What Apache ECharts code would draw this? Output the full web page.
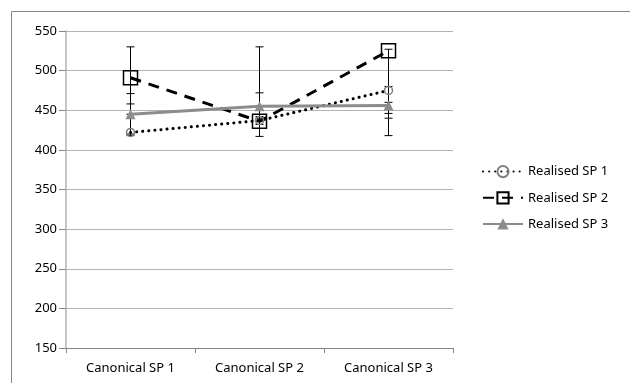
<!DOCTYPE html>
<html><head><meta charset="utf-8">
<script src="https://cdn.jsdelivr.net/npm/echarts@6/dist/echarts.min.js"></script>
<style>html,body{margin:0;padding:0;background:#fff}#c{width:630px;height:383px}</style>
</head><body><div id="c"></div>
<script>
const categories = ['Canonical SP 1', 'Canonical SP 2', 'Canonical SP 3'];
const seriesNames = ['Realised SP 1', 'Realised SP 2', 'Realised SP 3'];
const sp1 = [422, 437, 475];
const sp2 = [491, 436, 525];
const sp3 = [445, 455, 456];
const sp1Low = [418, 432, 440];
const sp1High = [458, 442, 480];
const sp2Low = [445, 417, 418];
const sp2High = [530, 530, 527];
const sp3Low = [420, 440, 446];
const sp3High = [471, 472, 460];
const yTicks = [150, 550, 50];

const FONT = 'Noto Sans';
function errData(lo, hi) { return categories.map((c, i) => [i, lo[i], hi[i]]); }
function errSeries(lo, hi) {
  return {
    type: 'custom', silent: true, z: 1, legendHoverLink: false,
    data: errData(lo, hi),
    renderItem: function (params, api) {
      const a = api.coord([api.value(0), api.value(1)]);
      const b = api.coord([api.value(0), api.value(2)]);
      const w = 4;
      const st = { stroke: '#000', lineWidth: 1 };
      return { type: 'group', children: [
        { type: 'line', shape: { x1: a[0], y1: a[1], x2: b[0], y2: b[1] }, style: st },
        { type: 'line', shape: { x1: a[0] - w, y1: a[1], x2: a[0] + w, y2: a[1] }, style: st },
        { type: 'line', shape: { x1: b[0] - w, y1: b[1], x2: b[0] + w, y2: b[1] }, style: st }
      ] };
    }
  };
}
const chart = echarts.init(document.getElementById('c'), null, { renderer: 'canvas' });
chart.setOption({
  animation: false,
  backgroundColor: '#fff',
  graphic: [{ type: 'rect', shape: { x: 11.5, y: 11.5, width: 640, height: 400 }, style: { fill: 'none', stroke: '#868686', lineWidth: 1 }, z: -10, silent: true }],
  grid: { left: 66, right: 177, top: 31, bottom: 35 },
  legend: {
    orient: 'vertical', left: 477, top: 160, itemGap: 13, itemWidth: 40, itemHeight: 14,
    textStyle: { fontFamily: FONT, fontSize: 13, color: '#000' },
    data: seriesNames
  },
  xAxis: {
    type: 'category', data: categories, boundaryGap: true,
    axisLine: { lineStyle: { color: '#868686', width: 1 } },
    axisTick: { show: true, length: 5, lineStyle: { color: '#868686' } },
    axisLabel: { fontFamily: FONT, fontSize: 13, color: '#000', margin: 14 }
  },
  yAxis: {
    type: 'value', min: yTicks[0], max: yTicks[1], interval: yTicks[2],
    axisLine: { show: true, lineStyle: { color: '#c6c6c6', width: 2 } },
    axisTick: { show: true, length: 7, lineStyle: { color: '#868686' } },
    axisLabel: { fontFamily: FONT, fontSize: 13, color: '#000', margin: 9 },
    splitLine: { lineStyle: { color: '#b3b3b3', width: 1 } }
  },
  series: [
    errSeries(sp1Low, sp1High), errSeries(sp2Low, sp2High), errSeries(sp3Low, sp3High),
    { name: seriesNames[0], type: 'line', data: sp1, z: 3, symbol: 'circle', symbolSize: 8,
      lineStyle: { color: '#000', width: 3, type: [0.1, 6], cap: 'round' },
      itemStyle: { color: 'rgba(255,255,255,0)', borderColor: '#808080', borderWidth: 1.5 } },
    { name: seriesNames[1], type: 'line', data: sp2, z: 3, symbol: 'rect', symbolSize: 14,
      lineStyle: { color: '#000', width: 3, type: [11, 8] },
      itemStyle: { color: 'rgba(255,255,255,0)', borderColor: '#000', borderWidth: 1.5 } },
    { name: seriesNames[2], type: 'line', data: sp3, z: 3, symbol: 'triangle', symbolSize: 10,
      lineStyle: { color: '#8c8c8c', width: 3 },
      itemStyle: { color: '#8c8c8c', borderColor: '#8c8c8c', borderWidth: 0 } }
  ]
});
</script></body></html>
